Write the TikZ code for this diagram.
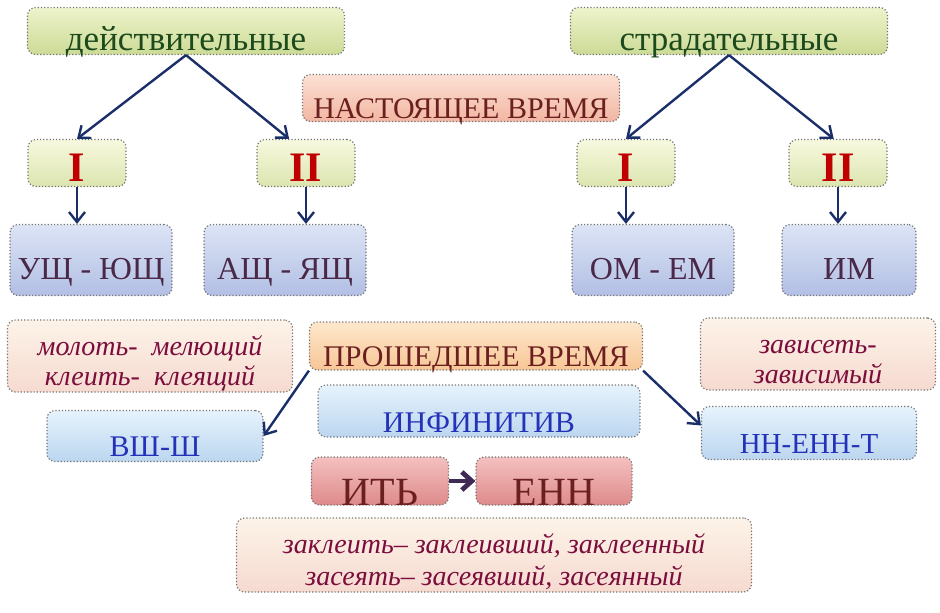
\documentclass[tikz,border=0pt]{standalone}
\usepackage{fontspec}
\setmainfont{Liberation Serif}
\usetikzlibrary{arrows.meta,positioning,calc}

\definecolor{arrowblue}{HTML}{1A2F6A}
\definecolor{arrowpurple}{HTML}{3F2A55}
\definecolor{greentext}{HTML}{1C4A1C}
\definecolor{redtext}{HTML}{6B1F1F}
\definecolor{romanred}{HTML}{C00000}
\definecolor{purpletext}{HTML}{4A2848}
\definecolor{exampletext}{HTML}{7B0D3C}
\definecolor{bluetext}{HTML}{2332B8}
\definecolor{greentop}{HTML}{EEF3CC}
\definecolor{greenbot}{HTML}{CCDB96}
\definecolor{romantop}{HTML}{F7F9DE}
\definecolor{romanbot}{HTML}{DCE5B0}
\definecolor{nasttop}{HTML}{FCE0D4}
\definecolor{nastbot}{HTML}{F2B6A2}
\definecolor{sufftop}{HTML}{DCE4F5}
\definecolor{suffbot}{HTML}{B2BFE4}
\definecolor{extop}{HTML}{FDF3E8}
\definecolor{exbot}{HTML}{F6DAD0}
\definecolor{proshtop}{HTML}{FDE8CC}
\definecolor{proshbot}{HTML}{F8C696}
\definecolor{lighttop}{HTML}{E6F3FC}
\definecolor{lightbot}{HTML}{BCD6F0}
\definecolor{redtop}{HTML}{F4C0C0}
\definecolor{redbot}{HTML}{DE8A8A}

\begin{document}
\begin{tikzpicture}[x=0.5pt,y=-0.5pt,
  box/.style={rounded corners=4pt, draw=black!55, densely dotted, line width=0.6pt, inner sep=0pt, align=center},
  low/.style={text height=#1, text depth=0pt},
  greenbox/.style={box, low=19.5pt, top color=greentop, bottom color=greenbot, text=greentext, font=\fontsize{17.5}{19}\selectfont},
  romanbox/.style={box, low=18.5pt, top color=romantop, bottom color=romanbot, text=romanred, font=\fontsize{21}{23}\selectfont\bfseries, minimum width=49pt, minimum height=23.5pt},
  timebox/.style={box, low=20pt, text=redtext, font=\fontsize{15}{17}\selectfont},
  suffbox/.style={box, low=19pt, top color=sufftop, bottom color=suffbot, text=purpletext, font=\fontsize{16}{18}\selectfont, minimum height=35.5pt},
  exbox/.style={box, low=29pt, top color=extop, bottom color=exbot, text=exampletext, font=\fontsize{14}{15}\selectfont\itshape},
  lightbox/.style={box, low=20pt, top color=lighttop, bottom color=lightbot, text=bluetext, font=\fontsize{15}{17}\selectfont},
  redbox/.style={box, low=24pt, top color=redtop, bottom color=redbot, text=redtext, font=\fontsize{20}{22}\selectfont, minimum height=24pt},
  link/.style={-{Straight Barb[length=5pt,width=8pt]}, draw=arrowblue, line width=1.2pt}
]
\useasboundingbox (0,0) rectangle (940,612);

% top row
\node[greenbox, minimum width=158.5pt, minimum height=23.5pt] (dejst) at (186,31) {действительные};
\node[greenbox, minimum width=158.5pt, minimum height=23.5pt] (strad) at (729,31) {страдательные};
\node[timebox, top color=nasttop, bottom color=nastbot, minimum width=158.5pt, minimum height=23.5pt] (nast) at (461,98) {НАСТОЯЩЕЕ ВРЕМЯ};

% conjugations
\node[romanbox] (dI) at (77,163) {I};
\node[romanbox] (dII) at (306,163) {II};
\node[romanbox] (sI) at (626,163) {I};
\node[romanbox] (sII) at (838,163) {II};

% suffixes
\node[suffbox, minimum width=81pt] (ushch) at (91,260) {УЩ - ЮЩ};
\node[suffbox, minimum width=81pt] (ashch) at (285,260) {АЩ - ЯЩ};
\node[suffbox, minimum width=81pt] (omem) at (653,260) {ОМ - ЕМ};
\node[suffbox, minimum width=67pt] (im) at (849,260) {ИМ};

% past tense and examples
\node[exbox, minimum width=142.5pt, minimum height=36pt] (molot) at (150,356) {молоть-\ \ мелющий\\клеить-\ \ клеящий};
\node[timebox, top color=proshtop, bottom color=proshbot, minimum width=166.5pt, minimum height=24pt] (prosh) at (476,346) {ПРОШЕДШЕЕ ВРЕМЯ};
\node[exbox, minimum width=117.5pt, minimum height=36pt] (zavis) at (818,354) {зависеть-\\зависимый};
\node[lightbox, minimum width=108pt, minimum height=25.5pt] (vsh) at (155,436) {ВШ-Ш};
\node[lightbox, low=21pt, minimum width=161pt, minimum height=26pt] (infin) at (479,411) {ИНФИНИТИВ};
\node[lightbox, font=\fontsize{14.5}{16}\selectfont, minimum width=107.5pt, minimum height=26.5pt] (nnenn) at (809,433) {НН-ЕНН-Т};
\node[redbox, minimum width=68.5pt] (it) at (380,481) {ИТЬ};
\node[redbox, minimum width=78pt] (enn) at (554,481) {ЕНН};
\node[exbox, low=30pt, font=\fontsize{14}{16}\selectfont\itshape, minimum width=257.5pt, minimum height=37pt] (zakl) at (494,555) {заклеить–\ заклеивший, заклеенный\\засеять–\ засеявший, засеянный};

% arrows
\draw[link] (dejst.south) -- (dI.north);
\draw[link] (dejst.south) -- (dII.125);
\draw[link] (strad.south) -- (sI.north);
\draw[link] (strad.south) -- (sII.100);
\draw[link] (dI.south) -- (dI.south |- ushch.north);
\draw[link] (dII.south) -- (dII.south |- ashch.north);
\draw[link] (sI.south) -- (sI.south |- omem.north);
\draw[link] (sII.south) -- (sII.south |- im.north);
\draw[link] (prosh.south west) -- (vsh.east);
\draw[link] (prosh.south east) -- (nnenn.176);
\draw[-{Straight Barb[length=5pt,width=9pt]}, draw=arrowpurple, line width=2.4pt] (it) -- (enn);
\end{tikzpicture}
\end{document}
